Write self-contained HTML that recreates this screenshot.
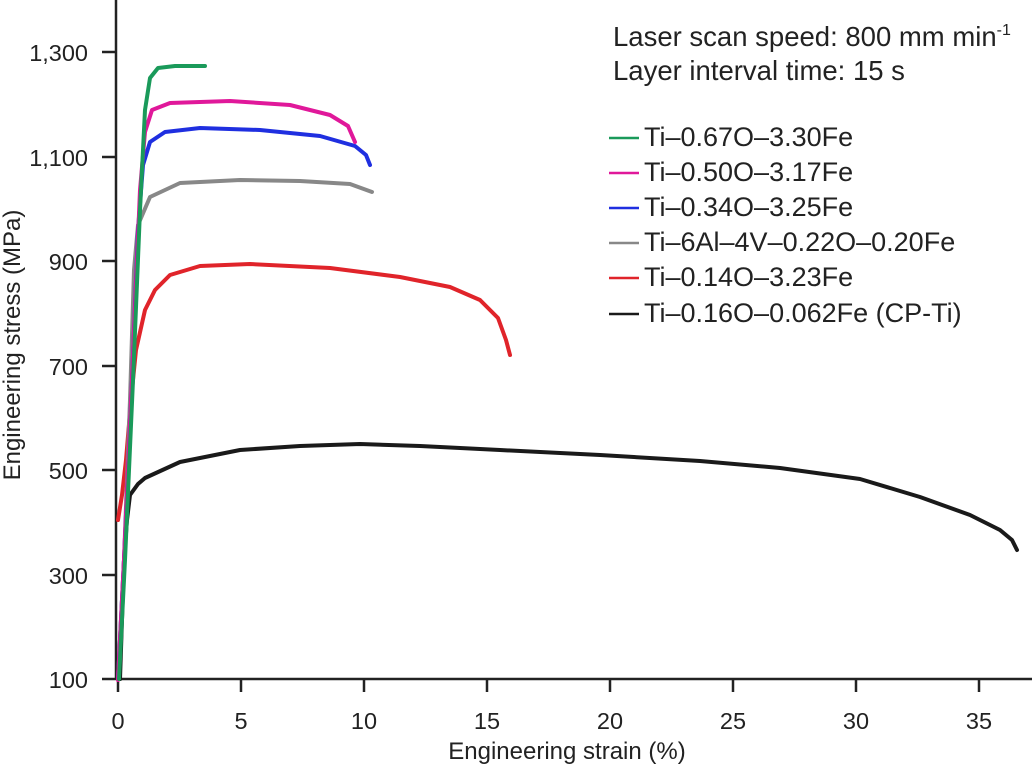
<!DOCTYPE html>
<html><head><style>body{margin:0;background:#fff}svg{display:block}text{font-family:"Liberation Sans",Arial,sans-serif;fill:#222}</style></head><body>
<svg width="1036" height="769" viewBox="0 0 1036 769">
<g stroke="#222" stroke-width="2.5" fill="none">
<line x1="116" y1="0" x2="116" y2="680"/>
<line x1="116" y1="679" x2="1032" y2="679"/>
<line x1="102" y1="52" x2="116" y2="52"/><line x1="102" y1="157" x2="116" y2="157"/><line x1="102" y1="261" x2="116" y2="261"/><line x1="102" y1="366" x2="116" y2="366"/><line x1="102" y1="470" x2="116" y2="470"/><line x1="102" y1="575" x2="116" y2="575"/><line x1="102" y1="679" x2="116" y2="679"/>
<line x1="118" y1="679" x2="118" y2="692"/><line x1="241" y1="679" x2="241" y2="692"/><line x1="364" y1="679" x2="364" y2="692"/><line x1="487" y1="679" x2="487" y2="692"/><line x1="610" y1="679" x2="610" y2="692"/><line x1="733" y1="679" x2="733" y2="692"/><line x1="856" y1="679" x2="856" y2="692"/><line x1="979" y1="679" x2="979" y2="692"/>
</g>
<g font-size="23.5" text-anchor="end">
<text x="88" y="61">1,300</text><text x="88" y="166">1,100</text><text x="88" y="270">900</text><text x="88" y="375">700</text><text x="88" y="479">500</text><text x="88" y="584">300</text><text x="88" y="688">100</text>
</g>
<g font-size="23.5" text-anchor="middle">
<text x="118" y="729">0</text><text x="241" y="729">5</text><text x="364" y="729">10</text><text x="487" y="729">15</text><text x="610" y="729">20</text><text x="733" y="729">25</text><text x="856" y="729">30</text><text x="979" y="729">35</text>
</g>
<g font-size="24" text-anchor="middle">
<text x="567" y="759">Engineering strain (%)</text>
<text transform="translate(20,345) rotate(-90)">Engineering stress (MPa)</text>
</g>
<g fill="none" stroke-width="4" stroke-linejoin="round" stroke-linecap="round">
<polyline stroke="#1a1a1a" points="120,679 124,560 127,520 130,495 138,484 145,478 180,462 240,450 300,446 360,444 420,446 500,450 600,455 700,461 780,468 860,479 920,497 970,515 1000,530 1012,540 1017,550"/>
<polyline stroke="#e0242a" points="118,520 122,495 126,460 131,400 136,350 145,310 155,290 170,275 200,266 250,264 330,268 400,277 450,287 480,300 498,318 506,340 510,355"/>
<polyline stroke="#888" points="118,679 124,560 130,400 134,270 138,225 150,197 180,183 240,180 300,181 350,184 372,192"/>
<polyline stroke="#1f2fe0" points="118,679 124,560 132,380 138,230 143,165 150,142 165,132 200,128 260,130 320,136 355,146 366,155 370,165"/>
<polyline stroke="#e0189a" points="118,680 124,560 132,380 140,190 145,132 152,110 170,103 230,101 290,105 330,115 348,126 355,142"/>
<polyline stroke="#1a9a5a" points="119,679 125,560 133,380 140,210 145,110 150,78 158,68 175,66 205,66"/>
</g>
<g font-size="27.5">
<text x="613" y="46">Laser scan speed: 800 mm min<tspan font-size="16" dy="-11">-1</tspan></text>
<text x="613" y="80">Layer interval time: 15 s</text>
</g>
<g font-size="27">
<text x="644" y="146">Ti–0.67O–3.30Fe</text>
<text x="644" y="181">Ti–0.50O–3.17Fe</text>
<text x="644" y="216">Ti–0.34O–3.25Fe</text>
<text x="644" y="251">Ti–6Al–4V–0.22O–0.20Fe</text>
<text x="644" y="286">Ti–0.14O–3.23Fe</text>
<text x="644" y="322">Ti–0.16O–0.062Fe (CP-Ti)</text>
</g>
<g stroke-width="2.5">
<line x1="609" y1="138" x2="639" y2="138" stroke="#1a9a5a"/>
<line x1="609" y1="173" x2="639" y2="173" stroke="#e0189a"/>
<line x1="609" y1="208" x2="639" y2="208" stroke="#1f2fe0"/>
<line x1="609" y1="243" x2="639" y2="243" stroke="#888"/>
<line x1="609" y1="278" x2="639" y2="278" stroke="#e0242a"/>
<line x1="609" y1="314" x2="639" y2="314" stroke="#1a1a1a"/>
</g>
</svg>
</body></html>
